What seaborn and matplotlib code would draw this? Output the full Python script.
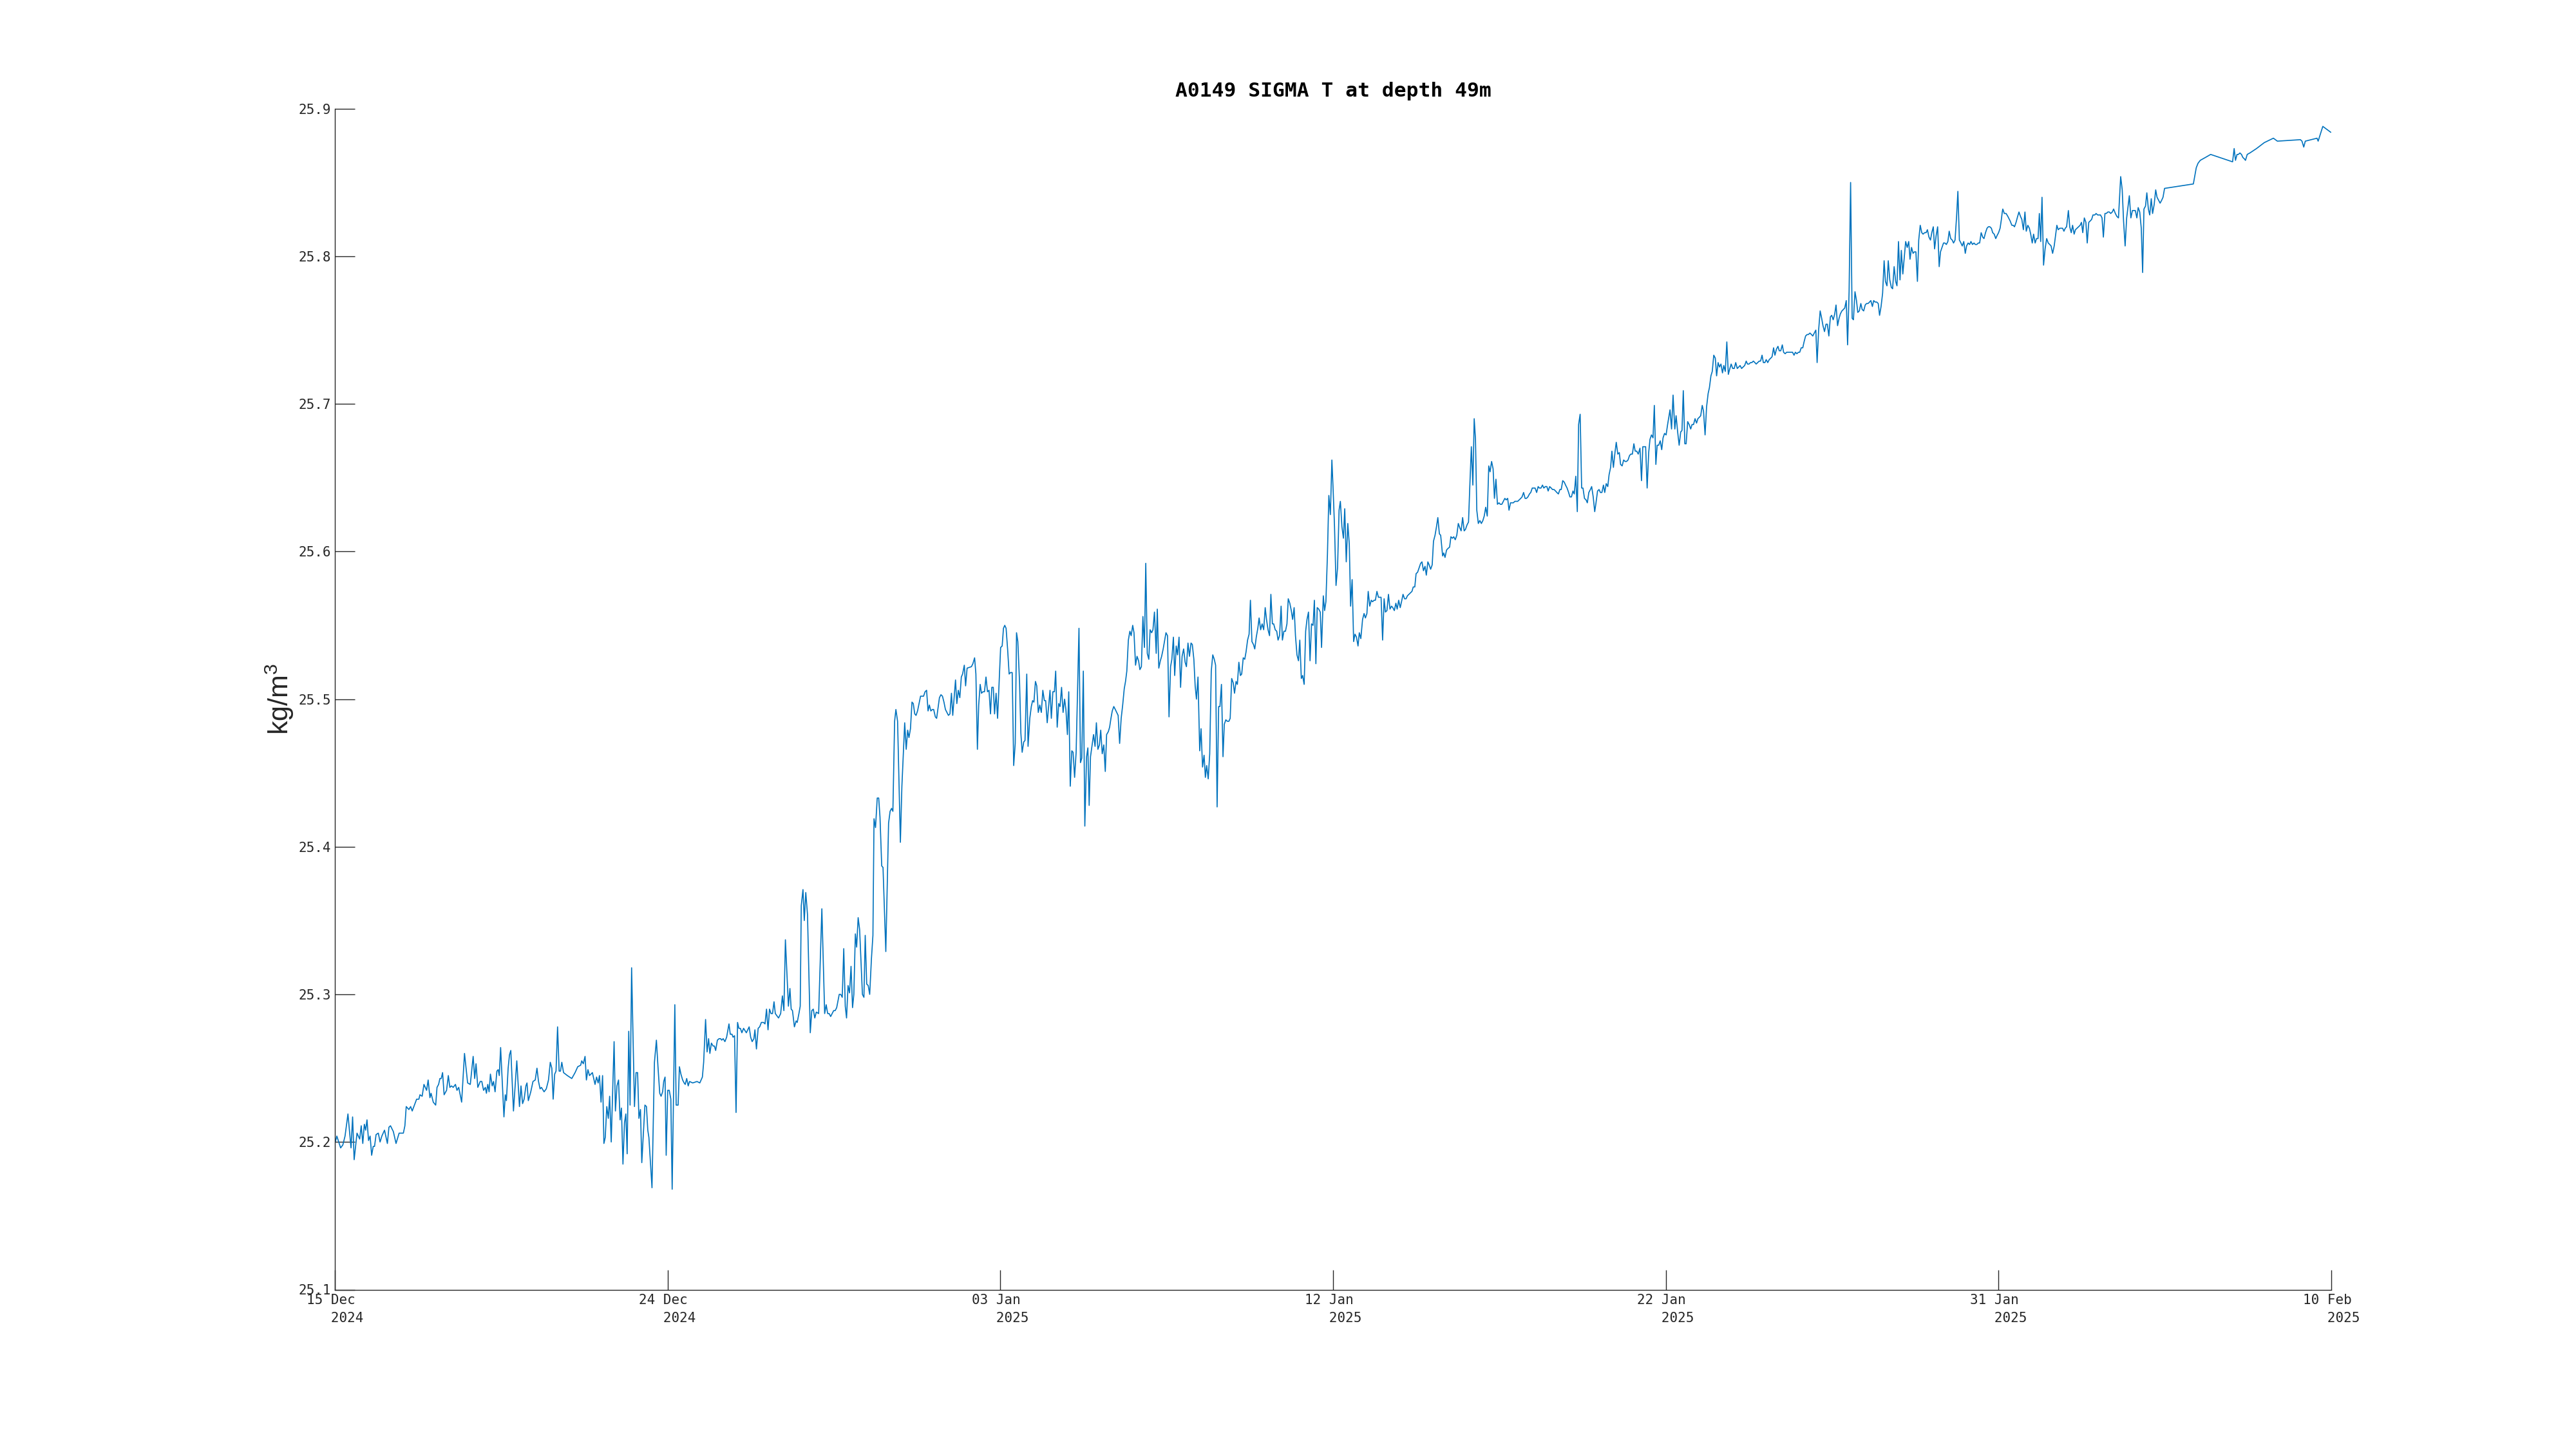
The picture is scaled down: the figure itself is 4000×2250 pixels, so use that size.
import numpy as np
import pandas as pd
import matplotlib
matplotlib.use("Agg")
import matplotlib.pyplot as plt
import seaborn as sns

# values: days since 15 Dec 2024 00:00 and sigma-t (kg/m3)
start_date = "2024-12-15"
end_date = "2025-02-10"

seg1_day = [
    0.012, 0.056, 0.164, 0.227, 0.290, 0.373, 0.461, 0.506, 0.550, 0.632,
    0.708, 0.752, 0.797, 0.841, 0.879, 0.917, 0.961, 1.006, 1.050, 1.094,
    1.132, 1.176, 1.240, 1.290, 1.341, 1.417, 1.499, 1.543, 1.588, 1.670,
    1.746, 1.834, 1.955, 1.999, 2.037, 2.113, 2.163, 2.208, 2.334, 2.398,
    2.429, 2.492, 2.543, 2.619, 2.663, 2.714, 2.746, 2.809, 2.878, 2.916,
    2.961, 2.999, 3.037, 3.075, 3.119, 3.189, 3.239, 3.283, 3.328, 3.378,
    3.442, 3.486, 3.536, 3.619, 3.701, 3.790, 3.866, 3.948, 3.992, 4.030,
    4.081, 4.150, 4.195, 4.245, 4.296, 4.327, 4.365, 4.403, 4.441, 4.492,
    4.530, 4.574, 4.625, 4.663, 4.694, 4.732, 4.827, 4.865, 4.897, 4.947,
    4.985, 5.023, 5.099, 5.194, 5.270, 5.314, 5.359, 5.403, 5.454, 5.485,
    5.523, 5.593, 5.656, 5.720, 5.770, 5.814, 5.859, 5.897, 5.973, 6.036,
    6.099, 6.150, 6.194, 6.232, 6.276, 6.314, 6.358, 6.403, 6.441, 6.479,
    6.529, 6.637, 6.764, 6.858, 6.934, 7.017, 7.048, 7.093, 7.143, 7.181,
    7.225, 7.270, 7.352, 7.428, 7.472, 7.516, 7.554, 7.599, 7.643, 7.681,
    7.719, 7.763, 7.807, 7.845, 7.890, 7.972, 8.010, 8.054, 8.099, 8.143,
    8.181, 8.225, 8.269, 8.307, 8.345, 8.390, 8.428, 8.472, 8.554, 8.598,
    8.643, 8.681, 8.725, 8.763, 8.852, 8.896, 8.934, 8.966, 9.054, 9.124,
    9.180, 9.225, 9.275, 9.313, 9.358, 9.389, 9.427, 9.459, 9.503, 9.547,
    9.592, 9.630, 9.706, 9.744,
]
seg1_sig = [
    25.200, 25.204, 25.196, 25.198, 25.204, 25.219, 25.196, 25.217, 25.188, 25.206,
    25.202, 25.211, 25.199, 25.212, 25.208, 25.215, 25.201, 25.204, 25.191, 25.197,
    25.197, 25.205, 25.206, 25.200, 25.204, 25.208, 25.199, 25.210, 25.211, 25.207,
    25.199, 25.206, 25.206, 25.211, 25.224, 25.222, 25.224, 25.221, 25.229, 25.229,
    25.232, 25.231, 25.239, 25.235, 25.242, 25.230, 25.233, 25.227, 25.225, 25.237,
    25.239, 25.243, 25.243, 25.247, 25.232, 25.235, 25.245, 25.237, 25.238, 25.237,
    25.239, 25.235, 25.237, 25.227, 25.260, 25.240, 25.239, 25.258, 25.243, 25.253,
    25.237, 25.241, 25.241, 25.235, 25.237, 25.233, 25.239, 25.234, 25.246, 25.238,
    25.241, 25.234, 25.248, 25.249, 25.245, 25.264, 25.217, 25.232, 25.228, 25.250,
    25.259, 25.262, 25.221, 25.255, 25.224, 25.238, 25.226, 25.229, 25.238, 25.240,
    25.228, 25.234, 25.241, 25.242, 25.250, 25.241, 25.236, 25.237, 25.234, 25.236,
    25.242, 25.254, 25.250, 25.229, 25.246, 25.248, 25.278, 25.248, 25.248, 25.254,
    25.247, 25.245, 25.243, 25.247, 25.251, 25.252, 25.255, 25.253, 25.258, 25.242,
    25.249, 25.245, 25.247, 25.239, 25.244, 25.240, 25.245, 25.227, 25.245, 25.199,
    25.203, 25.224, 25.216, 25.231, 25.200, 25.268, 25.221, 25.238, 25.242, 25.215,
    25.223, 25.185, 25.213, 25.219, 25.192, 25.275, 25.225, 25.318, 25.224, 25.247,
    25.247, 25.216, 25.222, 25.186, 25.225, 25.224, 25.208, 25.203, 25.169, 25.254,
    25.269, 25.251, 25.233, 25.231, 25.234, 25.241, 25.244, 25.191, 25.235, 25.235,
    25.229, 25.168, 25.293, 25.225,
]

seg2_day = [
    9.800, 9.837, 9.880, 9.929, 9.972, 10.003, 10.045, 10.088, 10.125, 10.217,
    10.339, 10.419, 10.493, 10.529, 10.584, 10.627, 10.670, 10.707, 10.750, 10.799,
    10.836, 10.872, 10.921, 10.970, 11.013, 11.044, 11.087, 11.136, 11.185, 11.252,
    11.289, 11.338, 11.368, 11.411, 11.454, 11.497, 11.534, 11.577, 11.620, 11.669,
    11.748, 11.828, 11.871, 11.914, 11.963, 11.993, 12.036, 12.085, 12.128, 12.177,
    12.238, 12.281, 12.324, 12.367, 12.410, 12.453, 12.495, 12.538, 12.575, 12.667,
    12.728, 12.777, 12.820, 12.863, 12.912, 12.949, 12.992, 13.028, 13.065, 13.120,
    13.169, 13.200, 13.249, 13.286, 13.316, 13.365, 13.402, 13.445, 13.494, 13.573,
    13.616, 13.659, 13.702, 13.745, 13.812, 13.904, 13.984, 14.027, 14.070, 14.112,
    14.155, 14.198, 14.241, 14.284, 14.327, 14.400, 14.443, 14.486, 14.529, 14.572,
    14.609, 14.652, 14.694, 14.737, 14.780, 14.817, 14.860, 14.897, 14.940, 14.982,
    15.062, 15.105, 15.142, 15.184, 15.227, 15.270, 15.319, 15.362,
]
seg2_sig = [
    25.225, 25.251, 25.246, 25.242, 25.240, 25.239, 25.243, 25.238, 25.241, 25.240,
    25.241, 25.240, 25.244, 25.254, 25.283, 25.261, 25.270, 25.260, 25.267, 25.265,
    25.265, 25.262, 25.269, 25.270, 25.270, 25.269, 25.270, 25.268, 25.271, 25.280,
    25.273, 25.273, 25.271, 25.272, 25.220, 25.281, 25.277, 25.277, 25.274, 25.277,
    25.274, 25.278, 25.271, 25.268, 25.270, 25.276, 25.263, 25.277, 25.278, 25.281,
    25.281, 25.280, 25.290, 25.276, 25.290, 25.287, 25.287, 25.295, 25.287, 25.284,
    25.287, 25.299, 25.289, 25.337, 25.311, 25.292, 25.304, 25.290, 25.289, 25.278,
    25.282, 25.281, 25.287, 25.292, 25.360, 25.371, 25.350, 25.369, 25.354, 25.274,
    25.289, 25.290, 25.284, 25.288, 25.287, 25.358, 25.287, 25.293, 25.287, 25.287,
    25.285, 25.287, 25.289, 25.289, 25.291, 25.300, 25.300, 25.298, 25.331, 25.292,
    25.284, 25.306, 25.301, 25.319, 25.291, 25.300, 25.341, 25.332, 25.352, 25.344,
    25.300, 25.298, 25.340, 25.307, 25.306, 25.300, 25.324, 25.340,
]

seg3_day = [
    15.393, 15.436, 15.485, 15.527, 15.564, 15.613, 15.650, 15.730, 15.809, 15.852,
    15.895, 15.932, 15.981, 16.018, 16.066, 16.146, 16.189, 16.269, 16.312, 16.354,
    16.391, 16.434, 16.477, 16.514, 16.556, 16.593, 16.636, 16.722, 16.765, 16.808,
    16.851, 16.894, 16.936, 16.973, 17.016, 17.059, 17.096, 17.144, 17.181, 17.261,
    17.304, 17.347, 17.390, 17.432, 17.475, 17.518, 17.561, 17.604, 17.641, 17.720,
    17.757, 17.800, 17.843, 17.886, 17.922, 17.971, 18.008, 18.051, 18.174, 18.216,
    18.265, 18.302, 18.345, 18.382, 18.424, 18.461, 18.504, 18.547, 18.590, 18.633,
    18.676, 18.719, 18.756, 18.798, 18.835, 18.878, 18.921,
]
seg3_sig = [
    25.419, 25.413, 25.433, 25.433, 25.420, 25.387, 25.386, 25.329, 25.416, 25.424,
    25.426, 25.424, 25.485, 25.493, 25.485, 25.403, 25.441, 25.484, 25.466, 25.479,
    25.474, 25.480, 25.498, 25.497, 25.490, 25.489, 25.492, 25.502, 25.502, 25.502,
    25.505, 25.506, 25.492, 25.496, 25.492, 25.493, 25.493, 25.488, 25.487, 25.501,
    25.503, 25.502, 25.498, 25.493, 25.491, 25.489, 25.490, 25.504, 25.489, 25.513,
    25.497, 25.506, 25.501, 25.515, 25.517, 25.523, 25.509, 25.521, 25.522, 25.524,
    25.528, 25.517, 25.466, 25.496, 25.510, 25.504, 25.505, 25.505, 25.515, 25.505,
    25.506, 25.490, 25.508, 25.508, 25.490, 25.504, 25.487,
]

seg4_day = [
    18.965, 19.008, 19.052, 19.089, 19.126, 19.164, 19.207, 19.251, 19.288, 19.338,
    19.381, 19.425, 19.462, 19.499, 19.549, 19.586, 19.623, 19.667, 19.704, 19.754,
    19.791, 19.841, 19.884, 19.921, 19.959, 20.002, 20.039, 20.083, 20.126, 20.170,
    20.213, 20.257, 20.294, 20.338, 20.381, 20.418, 20.456, 20.499, 20.543, 20.580,
    20.623, 20.667, 20.704, 20.748, 20.791, 20.835, 20.872, 20.915, 20.953, 20.996,
    21.040, 21.077, 21.120, 21.164, 21.245, 21.288, 21.325, 21.369, 21.412, 21.462,
    21.499, 21.536, 21.574, 21.661, 21.704, 21.742, 21.785, 21.829, 21.866, 21.909,
    21.953, 21.996, 22.034, 22.083, 22.120, 22.158, 22.195, 22.239, 22.282, 22.363,
    22.406, 22.450, 22.493, 22.537, 22.574, 22.611, 22.655, 22.698, 22.735, 22.779,
    22.816, 22.860, 22.903, 22.947, 22.984, 23.027, 23.071, 23.114, 23.152, 23.195,
    23.239, 23.276, 23.320, 23.357, 23.400, 23.450, 23.481, 23.524, 23.568, 23.605,
    23.649, 23.692, 23.729, 23.773, 23.816, 23.860, 23.897, 23.941, 23.978, 24.021,
    24.059, 24.102, 24.146, 24.189, 24.233, 24.276, 24.313, 24.357, 24.400, 24.444,
    24.481, 24.525, 24.562, 24.599, 24.643, 24.692, 24.730, 24.773, 24.817, 24.854,
    24.891, 24.935, 24.978, 25.022, 25.065, 25.108, 25.146, 25.189, 25.233, 25.270,
    25.313, 25.357, 25.394, 25.438, 25.481, 25.525, 25.562, 25.605, 25.649, 25.686,
    25.730, 25.767, 25.810, 25.854, 25.891, 25.935, 25.978, 26.015, 26.059, 26.102,
    26.140, 26.183, 26.227, 26.264, 26.307, 26.351, 26.388, 26.432, 26.475, 26.519,
    26.562, 26.599, 26.643, 26.686, 26.724, 26.767, 26.804, 26.848, 26.891, 26.929,
    26.972, 27.016, 27.053, 27.096, 27.140, 27.183, 27.220, 27.264, 27.307, 27.345,
    27.388, 27.426, 27.469, 27.512, 27.550, 27.593, 27.630, 27.674, 27.717, 27.755,
    27.798, 27.842, 27.885, 27.929, 27.966, 28.009, 28.047, 28.090, 28.134, 28.171,
    28.221, 28.258, 28.295, 28.339,
]
seg4_sig = [
    25.511, 25.535, 25.536, 25.548, 25.550, 25.548, 25.534, 25.517, 25.518, 25.518,
    25.455, 25.470, 25.545, 25.539, 25.511, 25.477, 25.464, 25.471, 25.472, 25.517,
    25.468, 25.487, 25.495, 25.499, 25.498, 25.512, 25.509, 25.491, 25.496, 25.491,
    25.506, 25.499, 25.499, 25.484, 25.496, 25.506, 25.487, 25.505, 25.505, 25.519,
    25.481, 25.497, 25.495, 25.508, 25.491, 25.500, 25.493, 25.476, 25.505, 25.441,
    25.465, 25.464, 25.447, 25.464, 25.548, 25.457, 25.460, 25.519, 25.414, 25.461,
    25.467, 25.428, 25.461, 25.476, 25.468, 25.484, 25.466, 25.469, 25.479, 25.463,
    25.469, 25.451, 25.476, 25.478, 25.481, 25.487, 25.492, 25.495, 25.493, 25.489,
    25.470, 25.487, 25.496, 25.507, 25.512, 25.519, 25.540, 25.546, 25.543, 25.550,
    25.545, 25.523, 25.529, 25.526, 25.520, 25.522, 25.556, 25.535, 25.592, 25.531,
    25.527, 25.547, 25.545, 25.547, 25.559, 25.531, 25.561, 25.521, 25.526, 25.529,
    25.534, 25.540, 25.545, 25.543, 25.488, 25.522, 25.527, 25.542, 25.516, 25.536,
    25.530, 25.542, 25.508, 25.529, 25.534, 25.525, 25.522, 25.538, 25.529, 25.538,
    25.537, 25.527, 25.509, 25.500, 25.515, 25.465, 25.480, 25.454, 25.462, 25.447,
    25.455, 25.446, 25.463, 25.519, 25.530, 25.527, 25.523, 25.427, 25.495, 25.495,
    25.510, 25.461, 25.483, 25.486, 25.485, 25.485, 25.487, 25.514, 25.511, 25.504,
    25.512, 25.510, 25.525, 25.516, 25.517, 25.528, 25.527, 25.532, 25.540, 25.544,
    25.567, 25.539, 25.537, 25.534, 25.542, 25.548, 25.555, 25.547, 25.551, 25.547,
    25.562, 25.554, 25.547, 25.543, 25.571, 25.551, 25.551, 25.547, 25.546, 25.540,
    25.543, 25.563, 25.540, 25.546, 25.546, 25.551, 25.568, 25.565, 25.560, 25.554,
    25.562, 25.543, 25.530, 25.526, 25.540, 25.514, 25.516, 25.510, 25.546, 25.554,
    25.559, 25.526, 25.551, 25.550, 25.567, 25.524, 25.562, 25.561, 25.559, 25.535,
    25.570, 25.560, 25.566, 25.598,
]

seg5_day = [
    28.379, 28.423, 28.466, 28.503, 28.541, 28.584, 28.628, 28.671, 28.708, 28.752,
    28.795, 28.833, 28.876, 28.920, 28.963, 29.000, 29.044, 29.087, 29.125, 29.168,
    29.212, 29.249, 29.292, 29.342, 29.385, 29.423, 29.466, 29.503, 29.547, 29.590,
    29.628, 29.671, 29.708, 29.752, 29.795, 29.833, 29.870, 29.914, 29.957, 29.994,
    30.038, 30.081, 30.125, 30.168, 30.205, 30.249, 30.293, 30.330, 30.373, 30.417,
    30.454, 30.497, 30.541, 30.584, 30.622, 30.665, 30.709, 30.752, 30.789, 30.833,
    30.870, 30.914, 30.957, 31.000, 31.038, 31.081, 31.125, 31.162, 31.206, 31.243,
    31.286, 31.330, 31.367, 31.411, 31.454, 31.491, 31.535, 31.572, 31.628, 31.659,
    31.696, 31.740, 31.777, 31.827, 31.864, 31.908, 31.945, 31.988, 32.032, 32.075,
    32.119, 32.156, 32.199, 32.243, 32.280, 32.324, 32.367, 32.405, 32.448, 32.491,
    32.529, 32.566, 32.603, 32.647, 32.690, 32.734, 32.777, 32.815, 32.858, 32.902,
    32.945, 32.982, 33.026, 33.069, 33.107, 33.150, 33.193, 33.237, 33.274, 33.318,
    33.361, 33.404, 33.442, 33.485, 33.523, 33.566, 33.610, 33.647, 33.690, 33.734,
    33.771, 33.815, 33.858, 33.895, 33.939, 33.982, 34.020, 34.063, 34.107, 34.144,
    34.187, 34.231, 34.268, 34.312, 34.355, 34.392, 34.436, 34.479, 34.517, 34.560,
    34.604, 34.641, 34.684, 34.728, 34.765, 34.809, 34.852, 34.889, 34.933, 34.976,
    35.014, 35.057, 35.100, 35.138, 35.181, 35.225, 35.262, 35.306, 35.349, 35.386,
    35.430, 35.473, 35.510, 35.554, 35.597, 35.635, 35.678, 35.722, 35.759, 35.802,
    35.846, 35.883, 35.927, 35.970, 36.007, 36.051, 36.094, 36.132, 36.175, 36.219,
    36.256, 36.299, 36.343, 36.380, 36.424, 36.461, 36.504, 36.548, 36.585, 36.629,
    36.672, 36.709, 36.753, 36.796, 36.840, 36.877, 36.921, 36.964, 37.001, 37.045,
    37.088, 37.126, 37.169, 37.213, 37.262, 37.306, 37.343, 37.386, 37.424, 37.467,
    37.511, 37.548, 37.591, 37.635, 37.672, 37.716, 37.753, 37.797, 37.840, 37.883,
    37.921, 37.964, 38.008, 38.051,
]
seg5_sig = [
    25.638, 25.625, 25.662, 25.641, 25.617, 25.577, 25.589, 25.628, 25.634, 25.617,
    25.609, 25.629, 25.593, 25.619, 25.605, 25.563, 25.581, 25.539, 25.544, 25.542,
    25.536, 25.545, 25.541, 25.554, 25.558, 25.555, 25.558, 25.573, 25.563, 25.567,
    25.566, 25.567, 25.567, 25.573, 25.569, 25.569, 25.569, 25.540, 25.568, 25.559,
    25.560, 25.571, 25.561, 25.563, 25.562, 25.560, 25.565, 25.561, 25.567, 25.562,
    25.566, 25.571, 25.568, 25.568, 25.570, 25.571, 25.572, 25.573, 25.576, 25.576,
    25.585, 25.586, 25.589, 25.592, 25.593, 25.587, 25.590, 25.584, 25.593, 25.591,
    25.588, 25.591, 25.607, 25.611, 25.617, 25.623, 25.612, 25.611, 25.597, 25.599,
    25.596, 25.601, 25.602, 25.603, 25.610, 25.609, 25.610, 25.608, 25.611, 25.619,
    25.616, 25.614, 25.623, 25.614, 25.615, 25.618, 25.620, 25.645, 25.671, 25.645,
    25.690, 25.676, 25.628, 25.619, 25.621, 25.619, 25.621, 25.624, 25.630, 25.624,
    25.658, 25.654, 25.661, 25.656, 25.636, 25.649, 25.632, 25.633, 25.632, 25.632,
    25.634, 25.636, 25.635, 25.636, 25.628, 25.633, 25.633, 25.633, 25.634, 25.634,
    25.634, 25.635, 25.636, 25.637, 25.640, 25.636, 25.636, 25.637, 25.639, 25.640,
    25.643, 25.643, 25.643, 25.640, 25.644, 25.643, 25.643, 25.645, 25.643, 25.644,
    25.644, 25.641, 25.644, 25.643, 25.642, 25.642, 25.641, 25.640, 25.639, 25.642,
    25.642, 25.648, 25.647, 25.645, 25.643, 25.640, 25.637, 25.637, 25.641, 25.639,
    25.651, 25.627, 25.686, 25.693, 25.643, 25.643, 25.636, 25.635, 25.633, 25.640,
    25.642, 25.644, 25.637, 25.627, 25.633, 25.641, 25.642, 25.640, 25.640, 25.645,
    25.640, 25.646, 25.644, 25.652, 25.657, 25.668, 25.657, 25.667, 25.674, 25.666,
    25.667, 25.659, 25.658, 25.662, 25.661, 25.661, 25.662, 25.665, 25.666, 25.666,
    25.673, 25.668, 25.668, 25.666, 25.670, 25.648, 25.671, 25.671, 25.671, 25.643,
    25.667, 25.676, 25.679, 25.677, 25.699, 25.659, 25.672, 25.672, 25.675, 25.669,
    25.677, 25.680, 25.679, 25.686,
]

seg6_day = [
    38.120, 38.164, 38.207, 38.257, 38.294, 38.338, 38.381, 38.425, 38.462, 38.499,
    38.543, 38.580, 38.624, 38.667, 38.711, 38.748, 38.791, 38.835, 38.878, 38.916,
    38.959, 38.996, 39.040, 39.077, 39.121, 39.164, 39.208, 39.245, 39.288, 39.326,
    39.369, 39.413, 39.450, 39.493, 39.531, 39.574, 39.618, 39.655, 39.698, 39.742,
    39.785, 39.829, 39.866, 39.910, 39.953, 39.996, 40.040, 40.083, 40.121, 40.164,
    40.208, 40.251, 40.295, 40.332, 40.375, 40.419, 40.456, 40.500, 40.543, 40.580,
    40.624, 40.667, 40.705, 40.748, 40.785, 40.829, 40.866, 40.910, 40.953, 40.997,
    41.034, 41.077, 41.115, 41.158, 41.202, 41.239, 41.282, 41.326, 41.363, 41.407,
    41.450, 41.494, 41.537, 41.574, 41.618, 41.661, 41.699, 41.742, 41.786, 41.823,
    41.866, 41.910, 41.947, 41.991, 42.034, 42.071, 42.115, 42.158, 42.196, 42.239,
    42.283, 42.320, 42.363, 42.407, 42.450, 42.487, 42.531, 42.574, 42.612, 42.655,
    42.699, 42.736, 42.779, 42.823, 42.860, 42.904, 42.947, 42.984, 43.028, 43.071,
    43.109, 43.152, 43.190, 43.233, 43.276, 43.320, 43.357, 43.401, 43.444, 43.481,
    43.525, 43.568, 43.606, 43.649, 43.693, 43.730, 43.773, 43.817, 43.854, 43.898,
    43.935, 43.978, 44.022, 44.065, 44.103, 44.146, 44.190, 44.233, 44.270, 44.314,
    44.351, 44.395, 44.438, 44.475, 44.519, 44.562, 44.600, 44.643, 44.687, 44.724,
    44.767, 44.811, 44.848, 44.892, 44.935, 44.972, 45.016, 45.059, 45.097, 45.140,
    45.184, 45.221, 45.264, 45.308, 45.345, 45.389, 45.432, 45.469, 45.513, 45.556,
    45.594, 45.637, 45.674, 45.718, 45.761, 45.805, 45.842, 45.886, 45.929, 45.966,
    46.010, 46.053, 46.091, 46.134, 46.177, 46.215, 46.258, 46.302, 46.339, 46.382,
    46.426, 46.463, 46.507, 46.550, 46.587, 46.631, 46.674, 46.712, 46.755, 46.799,
    46.836, 46.879, 46.923, 46.960, 47.004, 47.047, 47.084, 47.128, 47.171, 47.209,
    47.252, 47.295, 47.333, 47.376, 47.420, 47.457, 47.501, 47.544, 47.581, 47.606,
]
seg6_sig = [
    25.696, 25.683, 25.706, 25.683, 25.692, 25.681, 25.672, 25.681, 25.682, 25.709,
    25.673, 25.673, 25.688, 25.686, 25.683, 25.686, 25.686, 25.690, 25.687, 25.690,
    25.691, 25.692, 25.699, 25.695, 25.679, 25.698, 25.707, 25.711, 25.719, 25.722,
    25.733, 25.731, 25.719, 25.728, 25.725, 25.727, 25.721, 25.726, 25.722, 25.742,
    25.720, 25.724, 25.727, 25.724, 25.724, 25.728, 25.724, 25.725, 25.726, 25.724,
    25.725, 25.726, 25.729, 25.727, 25.727, 25.728, 25.728, 25.729, 25.728, 25.727,
    25.728, 25.729, 25.729, 25.733, 25.728, 25.728, 25.730, 25.728, 25.730, 25.731,
    25.732, 25.738, 25.733, 25.737, 25.739, 25.736, 25.736, 25.740, 25.735, 25.734,
    25.735, 25.735, 25.735, 25.735, 25.735, 25.733, 25.735, 25.734, 25.735, 25.735,
    25.738, 25.738, 25.742, 25.746, 25.747, 25.747, 25.748, 25.747, 25.746, 25.748,
    25.750, 25.728, 25.750, 25.763, 25.758, 25.753, 25.749, 25.754, 25.754, 25.746,
    25.759, 25.760, 25.757, 25.761, 25.767, 25.753, 25.758, 25.761, 25.763, 25.764,
    25.765, 25.770, 25.740, 25.776, 25.850, 25.758, 25.757, 25.776, 25.770, 25.762,
    25.763, 25.768, 25.764, 25.763, 25.767, 25.768, 25.768, 25.769, 25.770, 25.766,
    25.770, 25.769, 25.769, 25.768, 25.760, 25.766, 25.775, 25.797, 25.783, 25.780,
    25.797, 25.784, 25.779, 25.778, 25.793, 25.783, 25.780, 25.810, 25.784, 25.804,
    25.788, 25.800, 25.810, 25.806, 25.810, 25.798, 25.806, 25.802, 25.803, 25.803,
    25.783, 25.811, 25.821, 25.816, 25.815, 25.816, 25.816, 25.818, 25.813, 25.811,
    25.816, 25.820, 25.805, 25.814, 25.820, 25.793, 25.803, 25.806, 25.809, 25.809,
    25.808, 25.810, 25.817, 25.812, 25.811, 25.809, 25.811, 25.827, 25.844, 25.811,
    25.809, 25.807, 25.810, 25.802, 25.807, 25.809, 25.808, 25.810, 25.808, 25.809,
    25.808, 25.808, 25.809, 25.809, 25.816, 25.813, 25.812, 25.816, 25.819, 25.820,
    25.820, 25.819, 25.816, 25.815, 25.812, 25.814, 25.816, 25.819, 25.825, 25.830,
]

seg7_day = [
    47.621, 47.665, 47.716, 47.766, 47.830, 47.880, 47.918, 47.956, 48.000, 48.045,
    48.083, 48.127, 48.165, 48.209, 48.254, 48.291, 48.336, 48.380, 48.418, 48.462,
    48.500, 48.545, 48.583, 48.627, 48.665, 48.703, 48.741, 48.785, 48.829, 48.874,
    48.918, 48.962, 49.000, 49.044, 49.089, 49.165, 49.203, 49.247, 49.285, 49.329,
    49.367, 49.405, 49.443, 49.494, 49.532, 49.576, 49.614, 49.658, 49.696, 49.740,
    49.785, 49.829, 49.867, 49.905, 49.949, 49.994, 50.032, 50.076, 50.120, 50.158,
    50.196, 50.247, 50.285, 50.329, 50.373, 50.411, 50.455, 50.493, 50.538, 50.576,
    50.620, 50.664, 50.702, 50.747, 50.785, 50.835, 50.879, 50.924, 50.987, 51.031,
    51.069, 51.114, 51.158, 51.234, 51.278, 51.322, 51.367, 51.405, 51.449, 51.487,
    51.531, 51.575, 51.614, 51.651, 51.696, 51.734, 51.778, 51.816, 51.860, 51.898,
    51.943, 51.987, 52.025, 52.069, 52.113, 52.158, 52.196, 52.240, 53.062, 53.107,
    53.145, 53.195, 53.259, 53.410, 53.556, 54.182, 54.227, 54.265, 54.309, 54.347,
    54.391, 54.436, 54.474, 54.518, 54.550, 54.600, 54.676, 54.866, 55.087, 55.347,
    55.461, 56.119, 56.163, 56.214, 56.258, 56.593, 56.625, 56.758, 56.986,
]
seg7_sig = [
    25.832, 25.829, 25.829, 25.827, 25.824, 25.821, 25.821, 25.820, 25.823, 25.827,
    25.830, 25.827, 25.825, 25.818, 25.830, 25.817, 25.821, 25.819, 25.815, 25.809,
    25.815, 25.809, 25.812, 25.812, 25.829, 25.810, 25.840, 25.794, 25.805, 25.812,
    25.809, 25.808, 25.807, 25.802, 25.807, 25.821, 25.818, 25.819, 25.819, 25.819,
    25.817, 25.819, 25.820, 25.831, 25.820, 25.816, 25.821, 25.815, 25.818, 25.819,
    25.820, 25.821, 25.823, 25.816, 25.826, 25.823, 25.809, 25.823, 25.824, 25.825,
    25.828, 25.828, 25.829, 25.828, 25.828, 25.828, 25.826, 25.813, 25.829, 25.829,
    25.830, 25.830, 25.829, 25.830, 25.832, 25.829, 25.827, 25.826, 25.854, 25.845,
    25.824, 25.807, 25.826, 25.841, 25.826, 25.831, 25.831, 25.831, 25.826, 25.833,
    25.830, 25.819, 25.789, 25.832, 25.834, 25.843, 25.832, 25.828, 25.839, 25.829,
    25.835, 25.845, 25.840, 25.838, 25.836, 25.838, 25.840, 25.846, 25.849, 25.855,
    25.860, 25.863, 25.865, 25.867, 25.869, 25.864, 25.873, 25.865, 25.869, 25.869,
    25.870, 25.869, 25.867, 25.866, 25.865, 25.869, 25.870, 25.873, 25.877, 25.880,
    25.878, 25.879, 25.878, 25.874, 25.878, 25.880, 25.878, 25.888, 25.884,
]

ytick_values = [25.1, 25.2, 25.3, 25.4, 25.5, 25.6, 25.7, 25.8, 25.9]
xtick_labels = ["15 Dec\n   2024", "24 Dec\n   2024", "03 Jan\n   2025", "12 Jan\n   2025",
                "22 Jan\n   2025", "31 Jan\n   2025", "10 Feb\n   2025"]
title_text = "A0149 SIGMA T at depth 49m"
ylabel_text = "kg/m$^{3}$"

# assemble the series
days = np.concatenate([seg1_day, seg2_day, seg3_day, seg4_day, seg5_day, seg6_day, seg7_day])
sigma = np.concatenate([seg1_sig, seg2_sig, seg3_sig, seg4_sig, seg5_sig, seg6_sig, seg7_sig])
t0 = pd.Timestamp(start_date)
t1 = pd.Timestamp(end_date)
df = pd.DataFrame({"time": t0 + pd.to_timedelta(days, unit="D"), "sigma_t": sigma})

sns.set_style("white")
plt.rcParams["font.family"] = ["DejaVu Sans Mono", "DejaVu Sans"]
plt.rcParams["mathtext.fontset"] = "custom"
plt.rcParams["mathtext.rm"] = "Liberation Sans"
plt.rcParams["mathtext.it"] = "Liberation Sans"
plt.rcParams["mathtext.bf"] = "Liberation Sans:bold"

axis_col = "#262626"
fig = plt.figure(figsize=(40, 22.5), dpi=100)
ax = fig.add_axes([0.13, 0.11, 0.775, 0.815])

sns.lineplot(data=df, x="time", y="sigma_t", ax=ax, color="#0072BD",
             linewidth=1.2, sort=False, estimator=None)

ax.set_xlim(t0, t1)
ax.set_ylim(ytick_values[0], ytick_values[-1])
ax.set_yticks(ytick_values)
ax.set_yticklabels([f"{v:.1f}" for v in ytick_values])
ax.set_xticks(pd.date_range(t0, t1, periods=len(xtick_labels)))
ax.set_xticklabels(xtick_labels, linespacing=1.5)
for lbl in ax.get_xticklabels():
    lbl.set_multialignment("left")

for side in ["top", "right"]:
    ax.spines[side].set_visible(False)
for side in ["left", "bottom"]:
    ax.spines[side].set_color(axis_col)
    ax.spines[side].set_linewidth(1.0)

ax.tick_params(axis="both", which="major", direction="in", length=22, width=1.0,
               colors=axis_col, labelsize=15, bottom=True, left=True)
ax.tick_params(axis="x", pad=5)
ax.tick_params(axis="y", pad=4)

ax.set_xlabel("")
ax.set_ylabel(ylabel_text, fontsize=31, family="Liberation Sans", color=axis_col)
ax.yaxis.set_label_coords(-0.0197, 0.5)
ax.set_title(title_text, fontsize=22.5, fontweight="bold", pad=13.5, color="black")

fig.savefig("out.png", dpi=100, facecolor="white")
